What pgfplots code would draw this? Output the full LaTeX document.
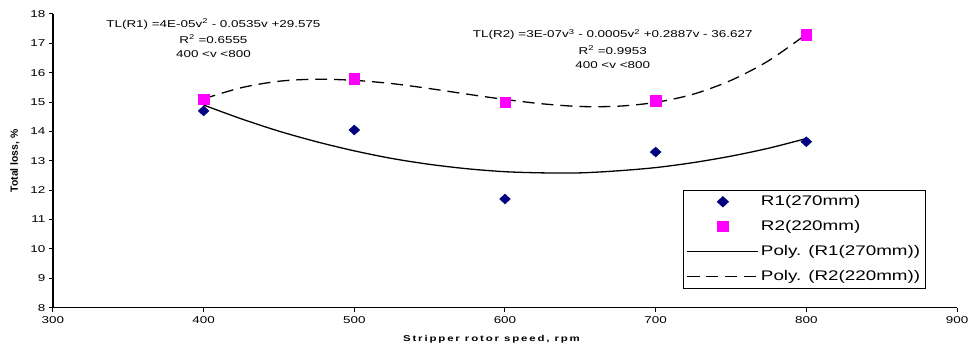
\documentclass[border=0pt]{standalone}
\usepackage{fontspec}
\setmainfont{Liberation Sans}[FakeStretch=1.35]
\newfontfamily\plainfont{Liberation Sans}
\usepackage{pgfplots}
\pgfplotsset{compat=1.18}
\definecolor{navyblue}{RGB}{0,0,128}
\definecolor{mag}{RGB}{255,0,255}
\begin{document}
\begin{tikzpicture}
\begin{axis}[
  name=ax,
  scale only axis, width=905bp, height=294bp,
  xmin=300, xmax=900, ymin=8, ymax=18,
  xtick={300,400,...,900}, ytick={8,9,...,18},
  axis x line=bottom, axis y line=left,
  axis line style={-, line width=1.6bp},
  tick align=outside, major tick length=4bp,
  tick style={line width=1bp, black},
  /pgf/number format/assume math mode=true,
  ticklabel style={font=\fontsize{10}{12}\selectfont},
  xticklabel style={yshift=-1bp},
  clip=false,
  legend image code/.code={\draw[mark repeat=2,mark phase=2,#1] plot coordinates {(0bp,0bp) (35.5bp,0bp) (71bp,0bp)};},
  legend style={at={(0.6972,0.4014)}, anchor=north west, draw=black, line width=1bp, fill=white,
    font=\fontsize{14}{16}\selectfont, inner xsep=3bp, inner ysep=3bp, row sep=8bp,
    nodes={inner sep=2bp, text height=10bp, text depth=3bp}},
  legend cell align=left,
]
\addplot[only marks, mark=diamond*, mark size=5bp, mark options={fill=navyblue, draw=navyblue, xscale=1.45}]
  coordinates {(400,14.7) (500,14.05) (600,11.7) (700,13.3) (800,13.65)};
\addlegendentry{R1(270mm)}
\addplot[only marks, mark=square*, mark size=5.2bp, mark options={fill=mag, draw=mag}]
  coordinates {(400,15.1) (500,15.8) (600,15.0) (700,15.05) (800,17.3)};
\addlegendentry{R2(220mm)}
\addplot[black, line width=1.3bp, smooth, no marks] coordinates {
 (400,14.90) (425,14.43) (450,14.01) (475,13.65) (500,13.34) (525,13.08) (550,12.88)
 (575,12.73) (600,12.63) (625,12.59) (650,12.59) (675,12.66) (700,12.77) (725,12.94)
 (750,13.16) (775,13.43) (800,13.76)};
\addlegendentry{Poly. (R1(270mm))}
\addplot[black, line width=1.3bp, dash pattern=on 12bp off 7bp, smooth, no marks] coordinates {
 (400,15.11) (425,15.49) (450,15.71) (475,15.78) (500,15.74) (525,15.63) (550,15.46)
 (575,15.27) (600,15.09) (625,14.94) (650,14.85) (675,14.86) (700,14.99) (725,15.27)
 (750,15.74) (775,16.41) (800,17.31)};
\addlegendentry{Poly. (R2(220mm))}
\node[font=\fontsize{10}{12}\selectfont] at (axis cs:406.5,17.66) {TL(R1) =4E-05v\textsuperscript{2} - 0.0535v +29.575};
\node[font=\fontsize{10}{12}\selectfont] at (axis cs:406.5,17.15) {R\textsuperscript{2} =0.6555};
\node[font=\fontsize{10}{12}\selectfont] at (axis cs:406.5,16.64) {400 <v <800};
\node[font=\fontsize{10}{12}\selectfont] at (axis cs:671.5,17.30) {TL(R2) =3E-07v\textsuperscript{3} - 0.0005v\textsuperscript{2} +0.2887v - 36.627};
\node[font=\fontsize{10}{12}\selectfont] at (axis cs:671.5,16.78) {R\textsuperscript{2} =0.9953};
\node[font=\fontsize{10}{12}\selectfont] at (axis cs:671.5,16.27) {400 <v <800};
\end{axis}
\node[rotate=90, font=\plainfont\bfseries\fontsize{10.5}{12}\selectfont] at ([xshift=-38bp]ax.west) {Total loss, \%};
\node[font=\fontsize{8.5}{10}\selectfont\bfseries\addfontfeatures{LetterSpace=22}] at ([xshift=439bp, yshift=-32bp]ax.south west) {Stripper rotor speed, rpm};
\pgfresetboundingbox
\path[use as bounding box] ([shift={(-53bp,-41bp)}]ax.south west) rectangle ([shift={(12bp,14bp)}]ax.north east);
\end{tikzpicture}
\end{document}
